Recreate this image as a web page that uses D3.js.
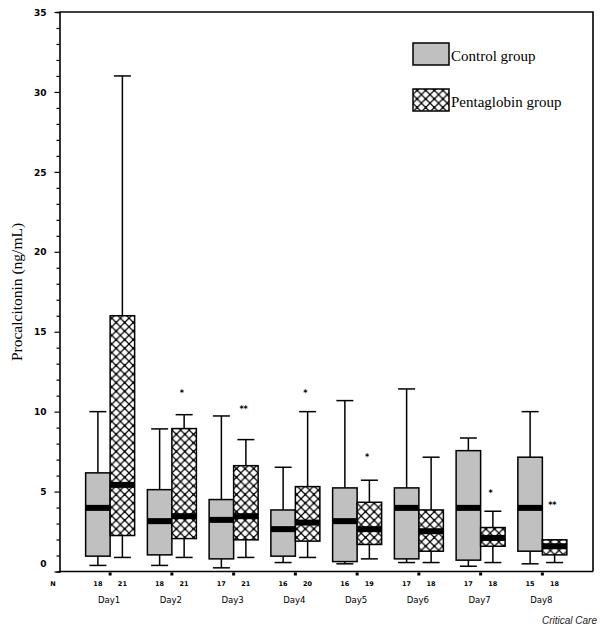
<!DOCTYPE html>
<html><head><meta charset="utf-8">
<script src="https://cdn.jsdelivr.net/npm/d3@7"></script>
<style>body{margin:0;background:#fff}svg{display:block}</style>
</head><body>
<svg id="c" width="600" height="628"></svg>
<script>
const days = ["Day1","Day2","Day3","Day4","Day5","Day6","Day7","Day8"];
// Control group: [whiskerLow, q1, median, q3, whiskerHigh]
const controlLow    = [0.38, 0.38, 0.23, 0.56, 0.48, 0.56, 0.33, 0.48];
const controlQ1     = [0.96, 1.04, 0.79, 0.96, 0.62, 0.79, 0.71, 1.27];
const controlMedian = [3.98, 3.15, 3.23, 2.65, 3.15, 3.98, 3.98, 3.98];
const controlQ3     = [6.17, 5.12, 4.50, 3.85, 5.23, 5.23, 7.56, 7.15];
const controlHigh   = [10.0, 8.92, 9.73, 6.52, 10.69, 11.42, 8.35, 10.0];
// Pentaglobin group
const pentaLow    = [0.88, 0.88, 0.88, 0.88, 0.79, 0.56, 0.56, 0.56];
const pentaQ1     = [2.25, 2.06, 1.98, 1.90, 1.69, 1.27, 1.58, 1.04];
const pentaMedian = [5.42, 3.46, 3.46, 3.06, 2.65, 2.52, 2.10, 1.58];
const pentaQ3     = [16.0, 8.94, 6.62, 5.31, 4.33, 3.85, 2.75, 1.98];
const pentaHigh   = [31.0, 9.81, 8.25, 10.0, 5.71, 7.15, 3.77, 1.98];
const controlN = ["18","18","17","16","16","17","17","15"];
const pentaN   = ["21","21","21","20","19","18","18","18"];
// significance marks (day index, mark, value height)
const sigDay   = [1, 2, 3, 4, 6, 7];
const sigMark  = ["*", "**", "*", "*", "*", "**"];
const sigValue = [11.2, 10.2, 11.2, 7.2, 5.0, 4.2];
const yTicks = [0,5,10,15,20,25,30,35];

const svg = d3.select("#c");
const L = 59.5, R = 593, T = 12, B = 571.5;
const x = d3.scalePoint().domain(days).range([L, R]).padding(0.82);
const y = d3.scaleLinear().domain([0, 35]).range([B, T]);

const defs = svg.append("defs");
const P = 8.6;
const pat = defs.append("pattern").attr("id","hatch").attr("patternUnits","userSpaceOnUse")
  .attr("width",P).attr("height",P);
pat.append("rect").attr("width",P).attr("height",P).attr("fill","#fff");
pat.append("path").attr("d",`M0,0L${P},${P}M${P},0L0,${P}`).attr("stroke","#000").attr("stroke-width",1.2);
pat.append("circle").attr("cx",P/2).attr("cy",P/2).attr("r",1.1).attr("fill","#000");

// frame
svg.append("path").attr("d",`M${L},${T}H${R}V${B}`).attr("fill","none").attr("stroke","#000").attr("stroke-width",1.6);

// y axis
const yAxis = d3.axisLeft(y).tickValues(d3.range(0,36,1)).tickSize(3)
  .tickFormat(d => yTicks.includes(d) ? d : "");
const gy = svg.append("g").attr("transform",`translate(${L},0)`).call(yAxis);
gy.select(".domain").attr("stroke-width",1.6);
gy.selectAll(".tick line").attr("stroke-width",1.2).attr("x2", d => yTicks.includes(d) ? -5 : -3);
gy.selectAll(".tick text").attr("font-family","DejaVu Sans").attr("font-weight","bold")
  .attr("font-size",9).attr("x",-13).attr("dy", d => d===0 ? "-0.55em" : "0.35em").attr("fill","#000");

// x axis
svg.append("line").attr("x1",L).attr("x2",R).attr("y1",B).attr("y2",B).attr("stroke","#000").attr("stroke-width",1.6);
svg.selectAll(".xt").data(days).join("rect").attr("x",d=>x(d)-1.5).attr("y",B+1).attr("width",3).attr("height",3).attr("fill","#000");
svg.selectAll(".dayl").data(days).join("text").attr("x",d=>x(d)-1).attr("y",603)
  .attr("text-anchor","middle").attr("font-family","DejaVu Sans Condensed, DejaVu Sans").attr("font-size",9.5).text(d=>d);

const W = 24.5, capW = 17;
function drawBoxes(offset, lo, q1, med, q3, hi, fill, nLab) {
  const g = svg.append("g");
  days.forEach((d,i) => {
    const x0 = x(d) + offset, cx = x0 + W/2;
    g.append("line").attr("x1",cx).attr("x2",cx).attr("y1",y(hi[i])).attr("y2",y(q3[i])).attr("stroke","#000").attr("stroke-width",1.5);
    g.append("line").attr("x1",cx).attr("x2",cx).attr("y1",y(q1[i])).attr("y2",y(lo[i])).attr("stroke","#000").attr("stroke-width",1.5);
    g.append("line").attr("x1",cx-capW/2).attr("x2",cx+capW/2).attr("y1",y(hi[i])).attr("y2",y(hi[i])).attr("stroke","#000").attr("stroke-width",1.5);
    g.append("line").attr("x1",cx-capW/2).attr("x2",cx+capW/2).attr("y1",y(lo[i])).attr("y2",y(lo[i])).attr("stroke","#000").attr("stroke-width",1.5);
    g.append("rect").attr("x",x0).attr("y",y(q3[i])).attr("width",W).attr("height",y(q1[i])-y(q3[i]))
      .attr("fill",fill).attr("stroke","#000").attr("stroke-width",1.5);
    g.append("rect").attr("x",x0).attr("y",y(med[i])-3).attr("width",W).attr("height",6).attr("fill","#000");
    g.append("text").attr("x",cx).attr("y",586).attr("text-anchor","middle").attr("font-family","DejaVu Sans")
      .attr("font-weight","bold").attr("font-size",6.5).text(nLab[i]);
  });
}
drawBoxes(-W, controlLow, controlQ1, controlMedian, controlQ3, controlHigh, "#c0c0c0", controlN);
drawBoxes(0, pentaLow, pentaQ1, pentaMedian, pentaQ3, pentaHigh, "url(#hatch)", pentaN);

svg.append("text").attr("x",53).attr("y",586).attr("text-anchor","middle").attr("font-family","DejaVu Sans")
  .attr("font-weight","bold").attr("font-size",6.5).text("N");

// significance marks
sigDay.forEach((di,k) => {
  svg.append("text").attr("x", x(days[di]) + 10).attr("y", y(sigValue[k]) + 4)
    .attr("text-anchor","middle").attr("font-family","DejaVu Sans").attr("font-weight","bold")
    .attr("font-size",8).text(sigMark[k]);
});

// y title
svg.append("text").attr("transform","translate(22,292) rotate(-90)").attr("text-anchor","middle")
  .attr("font-family","Liberation Serif").attr("font-size",15.5).text("Procalcitonin (ng/mL)");

// legend
const legend = [{label:"Control group", fill:"#c0c0c0", y:43},{label:"Pentaglobin group", fill:"url(#hatch)", y:89}];
legend.forEach(l => {
  svg.append("rect").attr("x",413).attr("y",l.y).attr("width",36).attr("height",22).attr("fill",l.fill).attr("stroke","#000").attr("stroke-width",1.5);
  svg.append("text").attr("x",451).attr("y",l.y+18).attr("font-family","Liberation Serif").attr("font-size",15).text(l.label);
});

svg.append("text").attr("x",597).attr("y",624).attr("text-anchor","end").attr("font-family","Liberation Sans")
  .attr("font-style","italic").attr("font-size",10).attr("fill","#222").text("Critical Care");
</script>
</body></html>
